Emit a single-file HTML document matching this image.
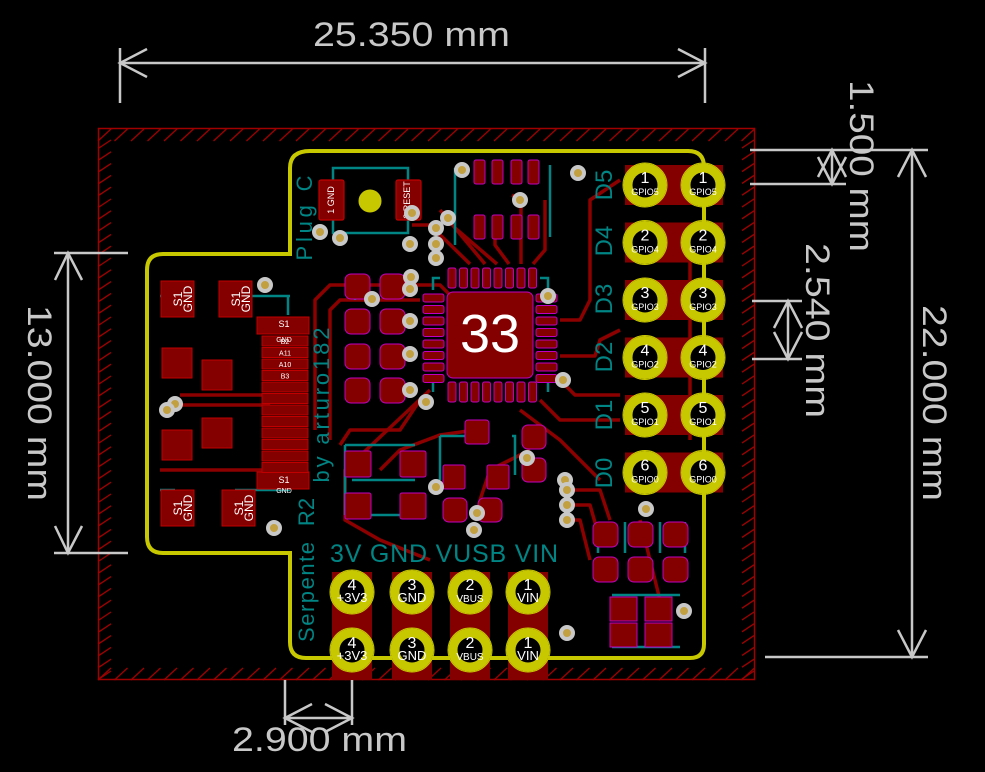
<!DOCTYPE html>
<html><head><meta charset="utf-8"><style>
html,body{margin:0;padding:0;background:#000;}
svg{display:block}
text{font-family:"Liberation Sans","DejaVu Sans",sans-serif}
</style></head><body>
<svg id="s" width="985" height="772" viewBox="0 0 985 772" xmlns="http://www.w3.org/2000/svg">
<rect width="985" height="772" fill="#000"/>
<g id="hatch" stroke="#a00000" stroke-width="1.3" fill="none"></g>
<rect x="98.5" y="128.5" width="656" height="551" fill="none" stroke="#a00000" stroke-width="1.5"/>

<!-- traces -->
<g stroke="#8c0000" stroke-width="3.5" fill="none" stroke-linejoin="round">
<path d="M470,264 L430,225 L412,225"/>
<path d="M485,264 L440,210"/>
<path d="M497,264 L455,228"/>
<path d="M509,264 L495,245 L495,228"/>
<path d="M521,264 L521,200 L512,195"/>
<path d="M533,264 L545,250 L545,200"/>
<path d="M315,430 L315,300 L330,285 L440,285 L450,295"/>
<path d="M330,440 L330,310 L340,300 L420,300"/>
<path d="M180,395 L270,395"/>
<path d="M180,405 L270,405"/>
<path d="M560,320 L580,320 L590,300 L590,200 L620,180"/>
<path d="M560,356 L595,356 L600,340 L620,330"/>
<path d="M560,380 L575,395 L620,395"/>
<path d="M540,400 L560,420 L620,420"/>
<path d="M520,410 L560,440 L580,460 L600,480"/>
<path d="M420,400 L400,430 L350,430 L340,445"/>
<path d="M430,390 L345,470 L345,520 L380,540 L430,560"/>
<path d="M475,430 L440,435 L400,450 L380,470"/>
<path d="M530,450 L490,470 L480,500"/>
<path d="M570,490 L600,490 L610,520"/>
<path d="M570,505 L590,505 L600,540"/>
<path d="M570,520 L580,520 L590,560"/>
<path d="M640,520 L650,560 L660,600"/>
<path d="M300,465 L280,470 L160,470"/>
<path d="M690,260 L690,440"/>
</g>
<!-- teal silkscreen outlines -->
<g stroke="#008484" stroke-width="2.5" fill="none">
<path d="M333,183 V168 H408 V183 M333,218 V233 H408 V218"/>
<line x1="455" y1="168" x2="455" y2="245"/>
<line x1="550" y1="165" x2="550" y2="237"/>
<path d="M355,300 V295 M440,278 H433 V290 M540,278 H548 V290 M433,380 V392 M548,380 V392"/>
<path d="M345,445 H415 M345,515 H415 M345,445 V515 M352,480 H415"/>
<path d="M440,436 H465 M440,436 V480 M512,436 H515 V475"/>
<path d="M612,595 H680 M612,647 H680"/>
<path d="M598,522 V553 M625,522 V553 M660,522 V553 M685,522 V553"/>
<path d="M290,296 H262 M235,296 H262 M290,490 H262 M235,490 H262"/>
<path d="M160,296 H175 M160,490 H175 M288,296 V315 M288,490 V475"/>
</g>

<!-- board outline -->
<path d="M310,151 H688 Q704,151 704,167 V644 Q704,658 690,658 H306 Q290,658 290,642 V553 H163 Q147,553 147,537 V270 Q147,254 163,254 H290 V168 Q290,151 310,151 Z" fill="none" stroke="#c8c800" stroke-width="4"/>

<!-- USB area pads -->
<g fill="#840000" stroke="#c00000" stroke-width="1">
<rect x="161" y="281" width="33" height="36"/>
<rect x="219" y="281" width="33" height="36"/>
<rect x="161" y="490" width="33" height="36"/>
<rect x="222" y="490" width="33" height="36"/>
<rect x="162" y="348" width="30" height="30"/>
<rect x="202" y="360" width="30" height="30"/>
<rect x="202" y="418" width="30" height="30"/>
<rect x="162" y="430" width="30" height="30"/>
<rect x="257" y="317" width="52" height="17"/>
<rect x="257" y="472" width="52" height="17"/>
</g>
<g id="usbpins" fill="#840000" stroke="#c00000" stroke-width="1"></g>
<g fill="#fff" font-size="9" text-anchor="middle">
<text x="284" y="327">S1</text><text x="284" y="342" font-size="7">GND</text>
<text x="284" y="483">S1</text><text x="284" y="493" font-size="7">GND</text>
</g>
<g fill="#fff" font-size="12">
<text transform="translate(182,299) rotate(-90)" text-anchor="middle">S1</text>
<text transform="translate(192,299) rotate(-90)" text-anchor="middle">GND</text>
<text transform="translate(240,299) rotate(-90)" text-anchor="middle">S1</text>
<text transform="translate(250,299) rotate(-90)" text-anchor="middle">GND</text>
<text transform="translate(182,508) rotate(-90)" text-anchor="middle">S1</text>
<text transform="translate(192,508) rotate(-90)" text-anchor="middle">GND</text>
<text transform="translate(243,508) rotate(-90)" text-anchor="middle">S1</text>
<text transform="translate(253,508) rotate(-90)" text-anchor="middle">GND</text>
</g>

<!-- top components -->
<g fill="#840000" stroke="#c00000" stroke-width="1.2">
<rect x="319" y="180" width="25" height="40" rx="2"/>
<rect x="396" y="180" width="25" height="40" rx="2"/>
</g>
<circle cx="370" cy="201" r="11" fill="#c8c800" stroke="#c8c800"/>
<g fill="#fff" font-size="9">
<text transform="translate(334,200) rotate(-90)" text-anchor="middle">1 GND</text>
<text transform="translate(410,200) rotate(-90)" text-anchor="middle">2 RESET</text>
</g>
<g id="smallpads" fill="#840000" stroke="#c000c0" stroke-width="1"></g>

<!-- chip -->
<g id="chip" fill="#840000" stroke="#c000c0" stroke-width="1"></g>
<rect x="447" y="292" width="86" height="86" rx="6" fill="#840000" stroke="#c000c0" stroke-width="1"/>
<text x="490" y="352" fill="#fff" font-size="54" text-anchor="middle">33</text>

<!-- big pads around center -->
<g fill="#840000" stroke="#c000c0" stroke-width="1">
<rect x="345" y="274" width="25" height="25" rx="6"/>
<rect x="380" y="274" width="25" height="25" rx="6"/>
<rect x="345" y="309" width="25" height="25" rx="6"/>
<rect x="380" y="309" width="25" height="25" rx="6"/>
<rect x="345" y="344" width="25" height="25" rx="6"/>
<rect x="380" y="344" width="25" height="25" rx="6"/>
<rect x="345" y="378" width="25" height="25" rx="6"/>
<rect x="380" y="378" width="25" height="25" rx="6"/>
<rect x="465" y="420" width="24" height="24" rx="3"/>
<rect x="522" y="425" width="24" height="24" rx="6"/>
<rect x="522" y="458" width="24" height="24" rx="6"/>
<rect x="345" y="451" width="26" height="26" rx="2"/>
<rect x="400" y="451" width="26" height="26" rx="2"/>
<rect x="345" y="493" width="26" height="26" rx="2"/>
<rect x="400" y="493" width="26" height="26" rx="2"/>
<rect x="443" y="465" width="22" height="24" rx="2"/>
<rect x="487" y="465" width="22" height="24" rx="2"/>
<rect x="443" y="498" width="24" height="24" rx="6"/>
<rect x="478" y="498" width="24" height="24" rx="6"/>
<rect x="593" y="522" width="25" height="25" rx="6"/>
<rect x="628" y="522" width="25" height="25" rx="6"/>
<rect x="663" y="522" width="25" height="25" rx="6"/>
<rect x="593" y="557" width="25" height="25" rx="6"/>
<rect x="628" y="557" width="25" height="25" rx="6"/>
<rect x="663" y="557" width="25" height="25" rx="6"/>
<rect x="610" y="597" width="27" height="24"/>
<rect x="645" y="597" width="27" height="24"/>
<rect x="610" y="623" width="27" height="24"/>
<rect x="645" y="623" width="27" height="24"/>
</g>

<!-- headers -->
<g id="hdr"></g>
<g id="vias"></g>

<!-- teal labels -->
<g fill="#008484" font-size="22">
<text transform="translate(312,218) rotate(-90)" text-anchor="middle" textLength="85">Plug C</text>
<text transform="translate(329,405) rotate(-90)" text-anchor="middle" textLength="155">by arturo182</text>
<text transform="translate(314,512) rotate(-90)" text-anchor="middle">R2</text>
<text transform="translate(314,592) rotate(-90)" text-anchor="middle" textLength="100">Serpente</text>
<text x="330" y="562" font-size="25" textLength="228">3V GND VUSB VIN</text>
<g font-size="24">
<text transform="translate(612,185) rotate(-90)" text-anchor="middle">D5</text>
<text transform="translate(612,241) rotate(-90)" text-anchor="middle">D4</text>
<text transform="translate(612,299) rotate(-90)" text-anchor="middle">D3</text>
<text transform="translate(612,357) rotate(-90)" text-anchor="middle">D2</text>
<text transform="translate(612,415) rotate(-90)" text-anchor="middle">D1</text>
<text transform="translate(612,473) rotate(-90)" text-anchor="middle">D0</text>
</g>
</g>

<!-- dimensions -->
<g stroke="#c8c8c8" stroke-width="2.5" fill="none">
<line x1="120" y1="48" x2="120" y2="103"/><line x1="705" y1="48" x2="705" y2="103"/>
<line x1="120" y1="63" x2="705" y2="63"/>
<path d="M147,49 L120,63 L147,77 M678,49 L705,63 L678,77"/>
<line x1="54" y1="253" x2="128" y2="253"/><line x1="54" y1="553" x2="128" y2="553"/>
<line x1="68" y1="253" x2="68" y2="553"/>
<path d="M55,280 L68,253 L82,280 M55,526 L68,553 L82,526"/>
<line x1="750" y1="150" x2="928" y2="150"/><line x1="765" y1="657" x2="928" y2="657"/>
<line x1="912" y1="150" x2="912" y2="657"/>
<path d="M898,177 L912,150 L926,177 M898,630 L912,657 L926,630"/>
<line x1="750" y1="184" x2="846" y2="184"/>
<line x1="832" y1="150" x2="832" y2="184"/>
<path d="M818,177 L832,150 L846,177 M818,157 L832,184 L846,157"/>
<line x1="752" y1="301" x2="802" y2="301"/><line x1="752" y1="359" x2="802" y2="359"/>
<line x1="788" y1="301" x2="788" y2="359"/>
<path d="M774,328 L788,301 L802,328 M774,332 L788,359 L802,332"/>
<line x1="285" y1="680" x2="285" y2="725"/><line x1="352" y1="680" x2="352" y2="725"/>
<line x1="285" y1="718" x2="352" y2="718"/>
<path d="M312,704 L285,718 L312,732 M325,704 L352,718 L325,732"/>
</g>
<g fill="#c8c8c8" font-size="34">
<text x="313" y="46" textLength="197" lengthAdjust="spacingAndGlyphs">25.350 mm</text>
<text x="232" y="751" textLength="175" lengthAdjust="spacingAndGlyphs">2.900 mm</text>
<text transform="translate(28,305) rotate(90)" textLength="196" lengthAdjust="spacingAndGlyphs">13.000 mm</text>
<text transform="translate(923,305) rotate(90)" textLength="196" lengthAdjust="spacingAndGlyphs">22.000 mm</text>
<text transform="translate(850,80) rotate(90)" textLength="172" lengthAdjust="spacingAndGlyphs">1.500 mm</text>
<text transform="translate(806,243) rotate(90)" textLength="175" lengthAdjust="spacingAndGlyphs">2.540 mm</text>
</g>
</svg>
<script>
var NS="http://www.w3.org/2000/svg";
function el(p,t,a,txt){var e=document.createElementNS(NS,t);for(var k in a)e.setAttribute(k,a[k]);if(txt!=null)e.textContent=txt;document.getElementById(p).appendChild(e);return e;}
// hatches
for(var x=98;x<755;x+=16.5){el("hatch","line",{x1:x,y1:141,x2:x+13,y2:129});el("hatch","line",{x1:x,y1:680,x2:x+13,y2:668});}
for(var y=140;y<680;y+=11.8){el("hatch","line",{x1:99,y1:y+8,x2:111,y2:y});el("hatch","line",{x1:742,y1:y+8,x2:754,y2:y});}
// usb pins
var lbl=["B2","A11","A10","B3","","","","","","","",""];
for(var i=0;i<12;i++){var yy=336+i*11.5;el("usbpins","rect",{x:262,y:yy,width:46,height:10});if(lbl[i])el("usbpins","text",{x:285,y:yy+8,fill:"#fff",stroke:"none","font-size":"7","text-anchor":"middle"},lbl[i]);}
// small pads top
[[474,160],[492,160],[511,160],[528,160],[474,215],[492,215],[511,215],[528,215]].forEach(function(p){el("smallpads","rect",{x:p[0],y:p[1],width:11,height:24,rx:2});});
// chip pins
for(var i=0;i<8;i++){var o=i*11.5;el("chip","rect",{x:446+o+2,y:268,width:8,height:20,rx:2});el("chip","rect",{x:446+o+2,y:382,width:8,height:20,rx:2});
el("chip","rect",{x:423,y:292+o+2,width:21,height:8,rx:2});el("chip","rect",{x:536,y:292+o+2,width:21,height:8,rx:2});}
// headers
function pad(cx,cy,n,l,fs){el("hdr","circle",{cx:cx,cy:cy,r:17,fill:"#000",stroke:"#c8c800","stroke-width":9});el("hdr","circle",{cx:cx,cy:cy,r:22,fill:"none",stroke:"#c8c800","stroke-width":1});
el("hdr","text",{x:cx,y:cy-2,fill:"#fff","font-size":"16","text-anchor":"middle"},n);el("hdr","text",{x:cx,y:cy+10,fill:"#fff","font-size":fs,"text-anchor":"middle"},l);}
var gp=["GPIO5","GPIO4","GPIO3","GPIO2","GPIO1","GPIO0"];
for(var i=0;i<6;i++){var cy=185+i*57.5;el("hdr","rect",{x:625,y:cy-20,width:98,height:40,fill:"#840000"});}
var bx=[352,412,470,528],bn=["4","3","2","1"],bl=["+3V3","GND","VBUS","VIN"];
for(var i=0;i<4;i++)el("hdr","rect",{x:bx[i]-20,y:572,width:40,height:108,fill:"#840000"});
el("hdr","line",{x1:704,y1:185,x2:704,y2:473,stroke:"#c8c800","stroke-width":4});
for(var i=0;i<6;i++){var cy=185+i*57.5;pad(645,cy,String(i+1),gp[i],"9");pad(703,cy,String(i+1),gp[i],"9");}
for(var i=0;i<4;i++){pad(bx[i],592,bn[i],bl[i],i==2?"10":"13");pad(bx[i],650,bn[i],bl[i],i==2?"10":"13");}
// vias
[[370,201,0],[462,170],[520,200],[448,218],[412,213],[436,228],[436,244],[436,258],[410,244],[411,277],[372,299],[410,289],[410,321],[410,354],[410,390],[426,402],[548,296],[563,380],[578,173],[320,232],[340,238],[175,404],[167,410],[265,285],[274,528],[436,487],[527,458],[565,480],[567,490],[567,505],[567,520],[684,611],[567,633],[646,509],[474,530],[477,513]].forEach(function(v){if(v[2]===0)return;el("vias","circle",{cx:v[0],cy:v[1],r:6,fill:"#c2a040",stroke:"#c8c8c8","stroke-width":4});});
</script>
</body></html>
